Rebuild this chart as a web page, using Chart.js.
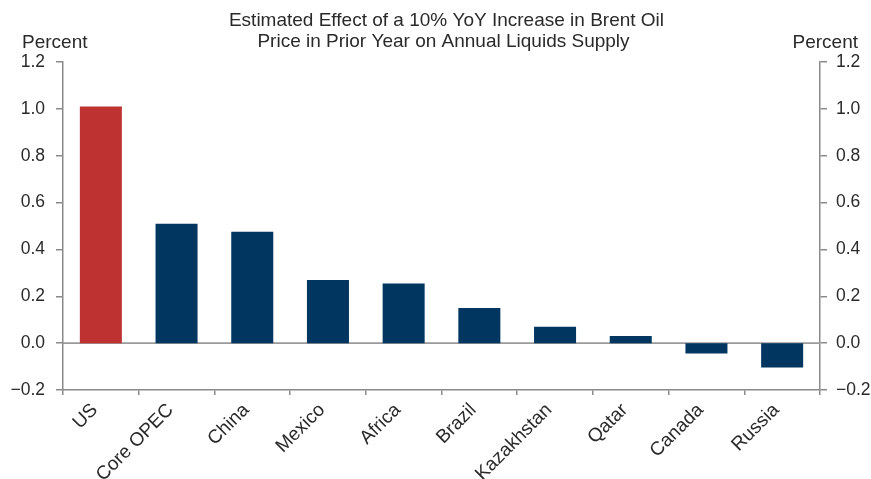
<!DOCTYPE html>
<html>
<head>
<meta charset="utf-8">
<script src="https://cdn.jsdelivr.net/npm/chart.js@4/dist/chart.umd.min.js"></script>
<style>
  html, body { margin: 0; padding: 0; background: #ffffff; }
  #wrap { width: 871px; height: 479px; position: relative; }
</style>
</head>
<body>
<div id="wrap"><canvas id="chart"></canvas></div>
<script>
// Producers and estimated supply response (percent)
const categories = ['US', 'Core OPEC', 'China', 'Mexico', 'Africa', 'Brazil', 'Kazakhstan', 'Qatar', 'Canada', 'Russia'];
const supplyEffect = [1.01, 0.51, 0.475, 0.27, 0.255, 0.15, 0.07, 0.03, -0.044, -0.104];
const titleLines = ['Estimated Effect of a 10% YoY Increase in Brent Oil', 'Price in Prior Year on Annual Liquids Supply'];
const axisUnit = 'Percent';
const yMin = -0.2, yMax = 1.2, yStep = 0.2;

const RED = '#bf3232';
const NAVY = '#003660';
const AXIS = '#8a8a8a';
const TEXT = '#2a2a2a';
const FONT = "'Liberation Sans', Arial, sans-serif";

// Tick text with one decimal and a true minus sign
const fmt = v => {
  const r = Math.round(v * 10) / 10;
  return (r < 0 ? '\u2212' : '') + Math.abs(r).toFixed(1);
};

// Two-line heading, unit captions over both value axes, and the zero line
const extras = {
  id: 'extras',
  beforeDatasetsDraw(chart) {
    const { ctx, chartArea, scales } = chart;
    const y0 = scales.y.getPixelForValue(0);
    ctx.save();
    ctx.strokeStyle = '#9a9a9a';
    ctx.lineWidth = 1.6;
    ctx.beginPath();
    ctx.moveTo(chartArea.left, y0);
    ctx.lineTo(chartArea.right, y0);
    ctx.stroke();
    ctx.restore();
  },
  afterDraw(chart) {
    const { ctx, chartArea } = chart;
    ctx.save();
    ctx.fillStyle = TEXT;
    ctx.textBaseline = 'alphabetic';
    ctx.font = '19px ' + FONT;
    ctx.textAlign = 'center';
    const cx = (chartArea.left + chartArea.right) / 2 + 3;
    ctx.fillText(titleLines[0], cx + 2, 26);
    ctx.fillText(titleLines[1], cx - 1, 46.5);
    ctx.font = '19px ' + FONT;
    ctx.textAlign = 'left';
    ctx.fillText(axisUnit, 22, chartArea.top - 14);
    ctx.textAlign = 'right';
    ctx.fillText(axisUnit, 858, chartArea.top - 14);
    ctx.restore();
  }
};

const valueAxis = (position, width, pad) => ({
  position,
  min: yMin,
  max: yMax,
  grid: { drawOnChartArea: false, drawTicks: true, tickLength: 7, color: AXIS, lineWidth: 1.5 },
  border: { display: true, color: AXIS, width: 1.5 },
  ticks: {
    stepSize: yStep,
    color: TEXT,
    font: { family: FONT, size: 17.5 },
    padding: pad,
    callback: v => fmt(v)
  },
  afterFit(scale) { scale.width = width; }
});

new Chart(document.getElementById('chart'), {
  type: 'bar',
  data: {
    labels: categories,
    datasets: [{
      data: supplyEffect,
      backgroundColor: supplyEffect.map((v, i) => i === 0 ? RED : NAVY),
      borderWidth: 0,
      barPercentage: 0.555,
      categoryPercentage: 1.0
    }]
  },
  options: {
    responsive: true,
    maintainAspectRatio: false,
    animation: false,
    layout: { padding: { left: 0, right: 0, top: 62, bottom: 0 } },
    plugins: {
      legend: { display: false },
      tooltip: { enabled: false },
      title: { display: false }
    },
    scales: {
      x: {
        grid: {
          offset: true,
          drawOnChartArea: false,
          drawTicks: true,
          tickLength: 5,
          color: AXIS,
          lineWidth: 1.5
        },
        border: { display: true, color: AXIS, width: 1.5 },
        ticks: {
          color: TEXT,
          font: { family: FONT, size: 19 },
          minRotation: 45,
          maxRotation: 45,
          padding: 4,
          labelOffset: -6
        },
        afterFit(scale) { scale.height = 89; }
      },
      y: valueAxis('left', 63, 11),
      y2: valueAxis('right', 51, 9)
    }
  },
  plugins: [extras]
});
</script>
</body>
</html>
